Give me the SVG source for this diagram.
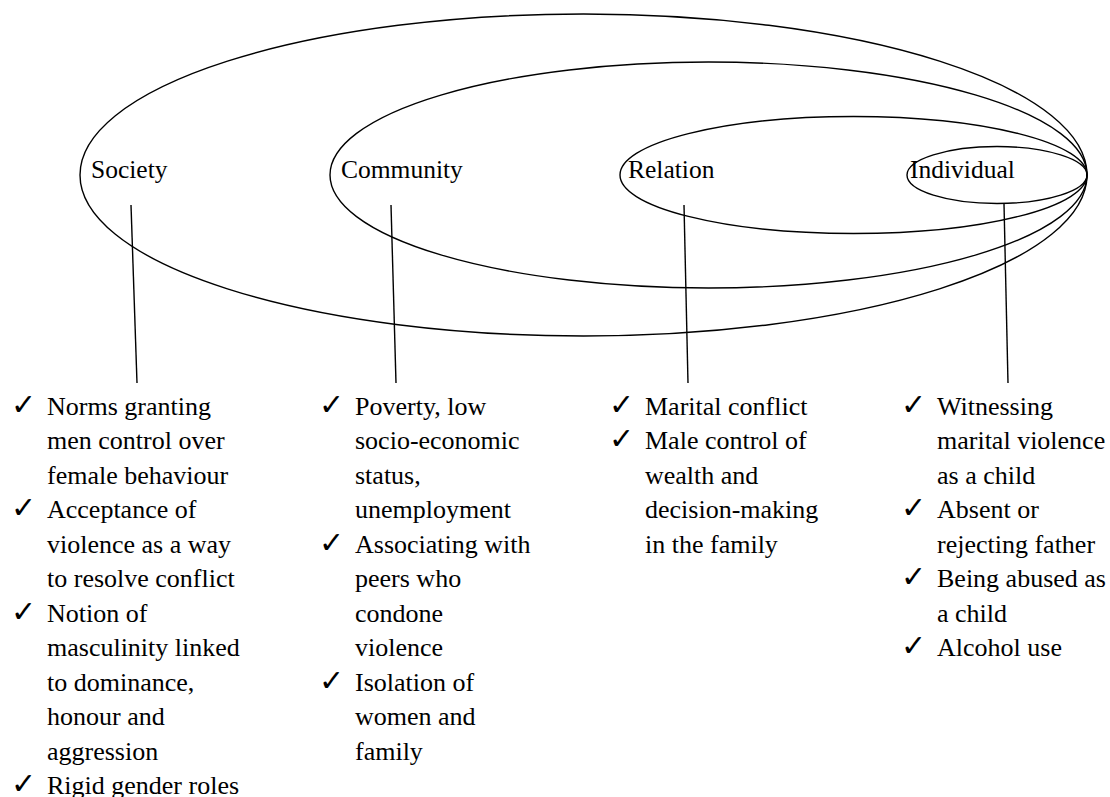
<svg xmlns="http://www.w3.org/2000/svg" width="1110" height="797" viewBox="0 0 1110 797">
<style>
.ring{fill:none;stroke:#000;stroke-width:1.4}
.lbl{font-family:"Liberation Serif","Times New Roman",serif;font-size:25.5px;fill:#000}
.item{font-family:"Liberation Serif","Times New Roman",serif;font-size:26px;fill:#000}
.chk{font-family:"DejaVu Sans",sans-serif;font-size:30px;fill:#000}
.conn{stroke:#000;stroke-width:1.4;fill:none}
</style>
<rect width="1110" height="797" fill="#fff"/>
<g id="society">
<ellipse class="ring" cx="583.5" cy="175" rx="503.5" ry="161"/>
<text class="lbl" x="91" y="178">Society</text>
</g>
<g id="community">
<ellipse class="ring" cx="708.5" cy="175" rx="378.5" ry="113"/>
<text class="lbl" x="341" y="178">Community</text>
</g>
<g id="relation">
<ellipse class="ring" cx="853.5" cy="175" rx="233.5" ry="58.5"/>
<text class="lbl" x="628" y="178">Relation</text>
</g>
<g id="individual">
<ellipse class="ring" cx="997" cy="175" rx="90" ry="28.5"/>
<text class="lbl" x="910" y="178">Individual</text>
</g>
<g id="connectors">
<line class="conn" x1="131" y1="205" x2="137" y2="383"/>
<line class="conn" x1="391" y1="205" x2="396" y2="383"/>
<line class="conn" x1="684" y1="205" x2="688" y2="383"/>
<line class="conn" x1="1004" y1="204" x2="1008" y2="383"/>
</g>
<g id="society-list">
<text class="chk" x="11" y="415">✓</text>
<text class="chk" x="11" y="518">✓</text>
<text class="chk" x="11" y="622">✓</text>
<text class="chk" x="11" y="794">✓</text>
<text class="item">
<tspan x="47" y="415">Norms granting</tspan>
<tspan x="47" y="449.4">men control over</tspan>
<tspan x="47" y="483.9">female behaviour</tspan>
<tspan x="47" y="518.3">Acceptance of</tspan>
<tspan x="47" y="552.8">violence as a way</tspan>
<tspan x="47" y="587.2">to resolve conflict</tspan>
<tspan x="47" y="621.7">Notion of</tspan>
<tspan x="47" y="656.1">masculinity linked</tspan>
<tspan x="47" y="690.6">to dominance,</tspan>
<tspan x="47" y="725">honour and</tspan>
<tspan x="47" y="759.5">aggression</tspan>
<tspan x="47" y="793.9">Rigid gender roles</tspan>
</text>
</g>
<g id="community-list">
<text class="chk" x="319" y="415">✓</text>
<text class="chk" x="319" y="553">✓</text>
<text class="chk" x="319" y="691">✓</text>
<text class="item">
<tspan x="355" y="415">Poverty, low</tspan>
<tspan x="355" y="449.4">socio-economic</tspan>
<tspan x="355" y="483.9">status,</tspan>
<tspan x="355" y="518.3">unemployment</tspan>
<tspan x="355" y="552.8">Associating with</tspan>
<tspan x="355" y="587.2">peers who</tspan>
<tspan x="355" y="621.7">condone</tspan>
<tspan x="355" y="656.1">violence</tspan>
<tspan x="355" y="690.6">Isolation of</tspan>
<tspan x="355" y="725">women and</tspan>
<tspan x="355" y="759.5">family</tspan>
</text>
</g>
<g id="relation-list">
<text class="chk" x="609" y="415">✓</text>
<text class="chk" x="609" y="449">✓</text>
<text class="item">
<tspan x="645" y="415">Marital conflict</tspan>
<tspan x="645" y="449.4">Male control of</tspan>
<tspan x="645" y="483.9">wealth and</tspan>
<tspan x="645" y="518.3">decision-making</tspan>
<tspan x="645" y="552.8">in the family</tspan>
</text>
</g>
<g id="individual-list">
<text class="chk" x="901" y="415">✓</text>
<text class="chk" x="901" y="518">✓</text>
<text class="chk" x="901" y="587">✓</text>
<text class="chk" x="901" y="656">✓</text>
<text class="item">
<tspan x="937" y="415">Witnessing</tspan>
<tspan x="937" y="449.4">marital violence</tspan>
<tspan x="937" y="483.9">as a child</tspan>
<tspan x="937" y="518.3">Absent or</tspan>
<tspan x="937" y="552.8">rejecting father</tspan>
<tspan x="937" y="587.2">Being abused as</tspan>
<tspan x="937" y="621.7">a child</tspan>
<tspan x="937" y="656.1">Alcohol use</tspan>
</text>
</g>
</svg>
